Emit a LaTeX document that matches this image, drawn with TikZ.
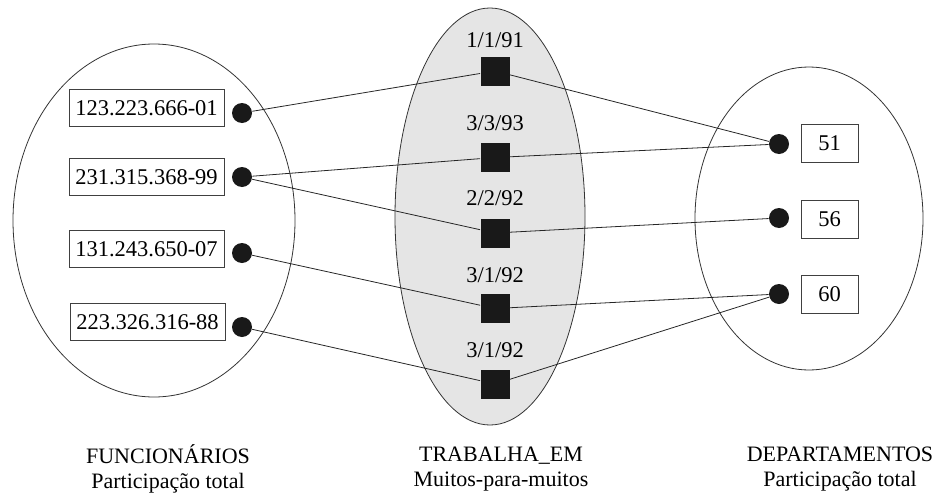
\documentclass[tikz,border=0pt]{standalone}
\usepackage{fontspec}
\setmainfont{Liberation Serif}
\usetikzlibrary{shapes.geometric}

\begin{document}
\begin{tikzpicture}[x=1pt,y=-1pt,line width=.8pt,
  every node/.style={font=\fontsize{22.5}{26}\selectfont},
  idbox/.style={draw=black!75,rectangle,minimum width=155pt,minimum height=37pt,inner sep=0pt},
  numbox/.style={draw=black!75,rectangle,minimum width=57pt,minimum height=38pt,inner sep=0pt},
  dot/.style={circle,fill=black!90,minimum size=20pt,inner sep=0pt},
  rel/.style={rectangle,fill=black!90,minimum size=29pt,inner sep=0pt},
  link/.style={draw=black!85,line width=.8pt},
  caption/.style={align=center,font=\fontsize{22}{25}\selectfont}]
\useasboundingbox (0,0) rectangle (935,498);

% conjuntos
\draw[black!80] (154,220.5) ellipse [x radius=141pt,y radius=176.5pt];
\draw[black!80,fill=black!10] (490,216.5) ellipse [x radius=95pt,y radius=208.5pt];
\draw[black!80] (809,218.5) ellipse [x radius=114pt,y radius=151.5pt];

% FUNCIONARIOS
\node[idbox] (f1) at (146.5,108) {123.223.666-01};
\node[idbox] (f2) at (146.5,177) {231.315.368-99};
\node[idbox] (f3) at (146.5,249) {131.243.650-07};
\node[idbox] (f4) at (147.5,322) {223.326.316-88};
\node[dot] (e1) at (242,113) {};
\node[dot] (e2) at (242,177) {};
\node[dot] (e3) at (242,253) {};
\node[dot] (e4) at (242,327) {};

% TRABALHA_EM
\node[rel] (r1) at (495,71) {};
\node[rel] (r2) at (495,157.5) {};
\node[rel] (r3) at (495,233) {};
\node[rel] (r4) at (495,308.5) {};
\node[rel] (r5) at (495,384) {};
\node at (495,40) {1/1/91};
\node at (495,123) {3/3/93};
\node at (495,198) {2/2/92};
\node at (495,275) {3/1/92};
\node at (495,350) {3/1/92};

% DEPARTAMENTOS
\node[dot] (d1) at (779,144) {};
\node[dot] (d2) at (779,218) {};
\node[dot] (d3) at (779,294) {};
\node[numbox] (n1) at (829.5,143) {51};
\node[numbox] (n2) at (829.5,219) {56};
\node[numbox] (n3) at (829.5,294) {60};

% instancias de relacionamento
\draw[link] (e1) -- (r1);
\draw[link] (e2) -- (r2);
\draw[link] (e2) -- (r3);
\draw[link] (e3) -- (r4);
\draw[link] (e4) -- (r5);
\draw[link] (r1) -- (d1);
\draw[link] (r2) -- (d1);
\draw[link] (r3) -- (d2);
\draw[link] (r4) -- (d3);
\draw[link] (r5) -- (d3);

\node[caption] (c1) at (168,469) {FUNCIONÁRIOS\\Participação total};
\node[caption] (c2) at (501,469) {TRABALHA\_EM\\Muitos-para-muitos};
\node[caption] (c3) at (840,469) {DEPARTAMENTOS\\Participação total};
\end{tikzpicture}
\end{document}
